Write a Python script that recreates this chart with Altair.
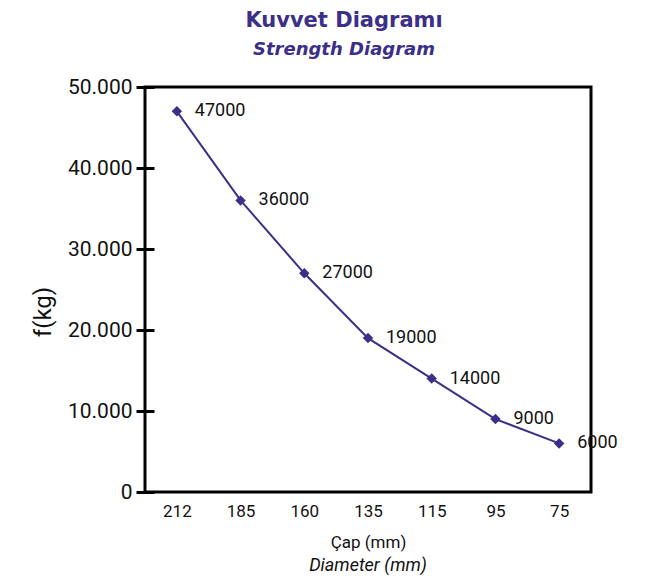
import altair as alt
import pandas as pd

diameters = ["212", "185", "160", "135", "115", "95", "75"]
forces = [47000, 36000, 27000, 19000, 14000, 9000, 6000]
y_ticks = [0, 10000, 20000, 30000, 40000, 50000]

df = pd.DataFrame({"d": diameters, "f": forces})

COLOR = "#3b2f87"
FONT = "Roboto"
TFONT = "DejaVu Sans"
W, H = 446, 405

x = alt.X("d:N", sort=diameters,
          scale=alt.Scale(type="point", padding=0.5),
          axis=alt.Axis(title="Çap (mm)", labelAngle=0, ticks=False, domain=False,
                        labelFontSize=17, labelPadding=11, titleFontSize=17,
                        titleFontWeight="normal", titlePadding=15, labelColor="#111",
                        titleColor="#111"))
y = alt.Y("f:Q", scale=alt.Scale(domain=[0, 50000]),
          axis=alt.Axis(title="f(kg)", values=y_ticks, grid=False, domain=False,
                        offset=-9, tickSize=18, tickWidth=3, tickColor="black", zindex=1,
                        labelExpr="replace(format(datum.value, ','), ',', '.')",
                        labelFontSize=21, labelPadding=4, titleFontSize=24,
                        titleFontWeight="normal", titlePadding=12, titleY=H / 2 + 22,
                        labelColor="#111", titleColor="#111"))

line = alt.Chart(df).mark_line(color=COLOR, strokeWidth=2).encode(x=x, y=y)
pts = alt.Chart(df).mark_point(shape="diamond", filled=True, size=110, color=COLOR, opacity=1).encode(x=x, y=y)
labels = alt.Chart(df).mark_text(align="left", dx=18, fontSize=18, font=FONT, color="#111").encode(
    x=x, y=y, text=alt.Text("f:Q", format="d"))
sub = alt.Chart(pd.DataFrame({"s": ["Diameter (mm)"]})).mark_text(
    fontSize=18, fontStyle="italic", font=FONT, color="#111").encode(
    text="s:N", x=alt.value(W / 2), y=alt.value(H + 74))

chart = alt.layer(line, pts, labels, sub).properties(
    width=W, height=H,
    padding={"left": 23, "top": 2, "right": 5, "bottom": 5},
    title=alt.TitleParams("Kuvvet Diagramı", subtitle="Strength Diagram",
                          fontSize=21, font=TFONT, fontWeight="bold", color=COLOR,
                          subtitleFontSize=18, subtitleFont=TFONT, subtitleFontStyle="italic",
                          subtitleFontWeight="bold", subtitleColor=COLOR,
                          anchor="middle", offset=17, subtitlePadding=10, dx=-24)
).configure_view(stroke="black", strokeWidth=3).configure_axis(labelFont=FONT, titleFont=FONT)

chart.save("out.html", embed_options={"renderer": "svg", "actions": False})
